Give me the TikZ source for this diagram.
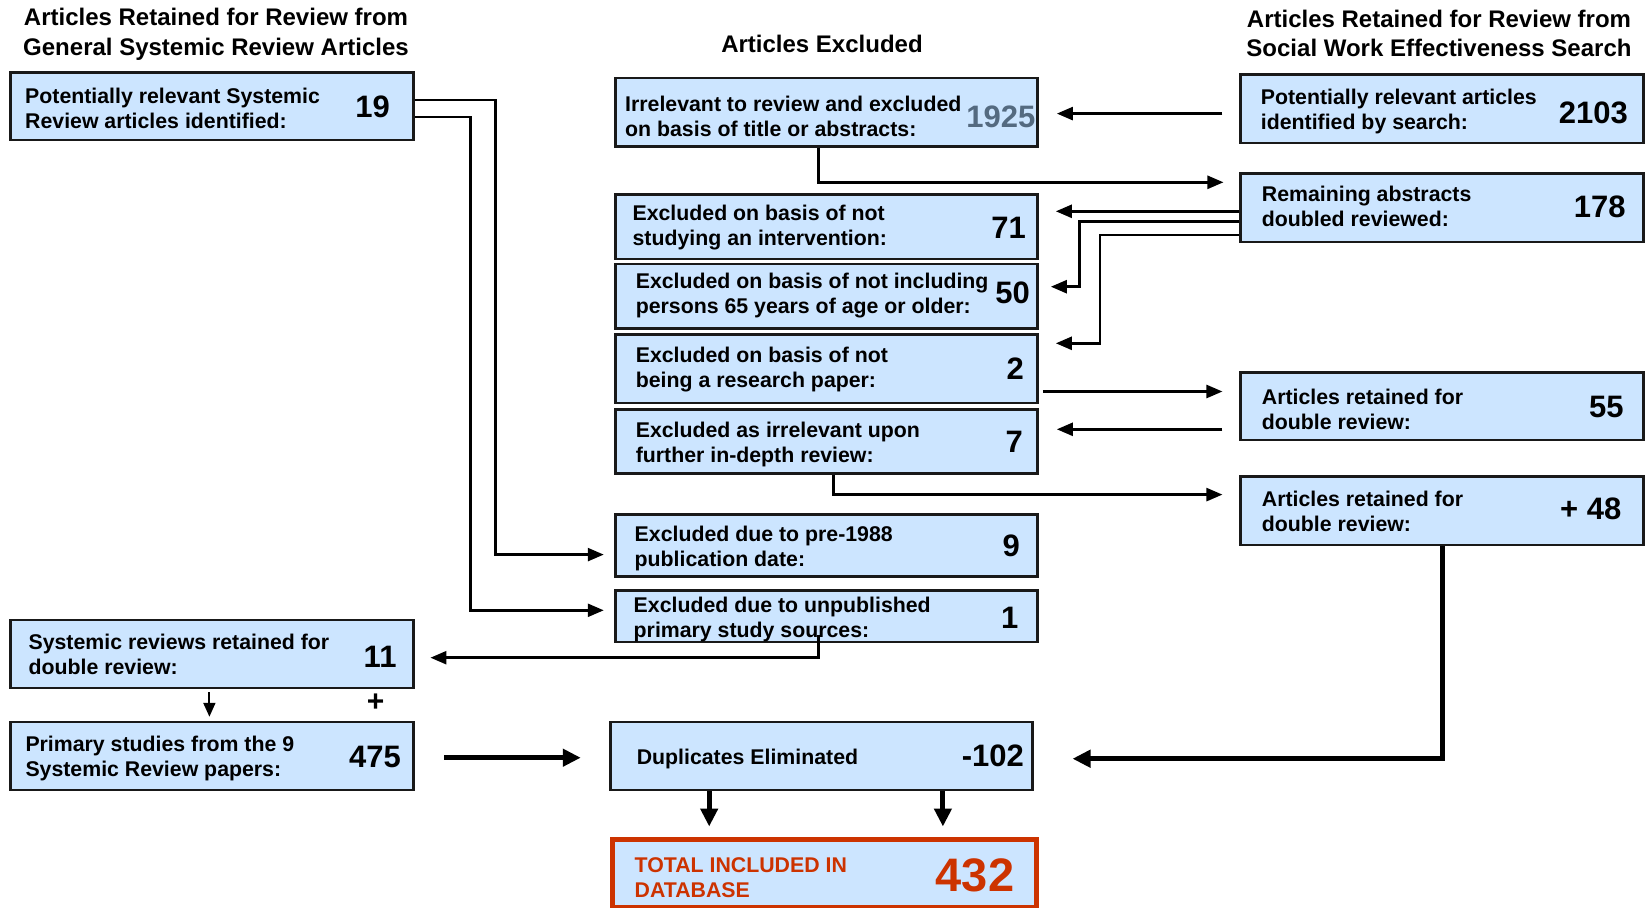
\documentclass[tikz,border=0pt]{standalone}
\usepackage{fontspec}
\setmainfont{Liberation Sans}
\usetikzlibrary{arrows.meta}
\definecolor{boxblue}{RGB}{204,229,255}
\definecolor{numgray}{RGB}{84,106,128}
\definecolor{redc}{RGB}{204,51,0}
\tikzset{
  box/.style={draw=black!90, line width=2.5pt, fill=boxblue, inner sep=0pt},
  lbl/.style={font=\fontsize{21.3}{25}\selectfont\bfseries, align=left, anchor=west, inner sep=0pt, yshift=-1.5pt},
  num/.style={font=\fontsize{31}{31}\selectfont\bfseries, anchor=east, inner sep=0pt, yshift=-1pt},
  hdr/.style={font=\fontsize{24}{29.5}\selectfont\bfseries, align=center, inner sep=0pt},
  conn/.style={line width=2.5pt, -{Triangle[length=16pt,width=13pt]}},
  thickconn/.style={line width=5pt, -{Triangle[length=18pt,width=17pt]}},
  smallconn/.style={line width=2pt, -{Triangle[length=14pt,width=12pt]}},
}
\begin{document}
\begin{tikzpicture}[x=1pt,y=-1pt]
\useasboundingbox (0,0) rectangle (1650,908);
% headers
\node[hdr] (hL) at (216,34.5) {Articles Retained for Review from\\General Systemic Review Articles};
\node[hdr] (hM) at (822,44) {Articles Excluded};
\node[hdr] (hR) at (1439,33.5) {Articles Retained for Review from\\Social Work Effectiveness Search};
% left column
\node[box, minimum width=403pt, minimum height=67.4pt] (A) at (212,106.3) {};
\node[lbl] (lA) at (25,107.3) {Potentially relevant Systemic\\Review articles identified:};
\node[num] (nA) at (390,106) {19};
\node[box, minimum width=403pt, minimum height=68pt] (L2) at (212,654) {};
\node[lbl] (lL2) at (28.4,652.4) {Systemic reviews retained for\\double review:};
\node[num] (nL2) at (396.7,655.6) {11};
\node[box, minimum width=403pt, minimum height=68pt] (L3) at (212,756) {};
\node[lbl] (lL3) at (25.3,756.5) {Primary studies from the 9\\Systemic Review papers:};
\node[num] (nL3) at (401,755.5) {475};
% middle column
\node[box, minimum width=422pt, minimum height=68.4pt] (M1) at (826.6,112.1) {};
\node[lbl] (lM1) at (625,114.5) {Irrelevant to review and excluded\\on basis of title or abstracts:};
\node[num, text=numgray] (nM1) at (1035.5,115.7) {1925};
\node[box, minimum width=422pt, minimum height=64.2pt] (M2) at (826.6,226.8) {};
\node[lbl] (lM2) at (632.4,226.2) {Excluded on basis of not\\studying an intervention:};
\node[num] (nM2) at (1026,227) {71};
\node[box, minimum width=422pt, minimum height=64.2pt] (M3) at (826.6,296.2) {};
\node[lbl] (lM3) at (635.6,294.5) {Excluded on basis of not including\\persons 65 years of age or older:};
\node[num] (nM3) at (1030,291.5) {50};
\node[box, minimum width=422pt, minimum height=68.4pt] (M4) at (826.6,368.8) {};
\node[lbl] (lM4) at (635.6,368.3) {Excluded on basis of not\\being a research paper:};
\node[num] (nM4) at (1024,368) {2};
\node[box, minimum width=422pt, minimum height=64.2pt] (M5) at (826.6,441.4) {};
\node[lbl] (lM5) at (635.6,443) {Excluded as irrelevant upon\\further in-depth review:};
\node[num] (nM5) at (1023,441) {7};
\node[box, minimum width=422pt, minimum height=62.1pt] (M6) at (826.6,545.65) {};
\node[lbl] (lM6) at (634.5,547.2) {Excluded due to pre-1988\\publication date:};
\node[num] (nM6) at (1020,545) {9};
\node[box, minimum width=422pt, minimum height=51.6pt] (M7) at (826.6,616.1) {};
\node[lbl] (lM7) at (633.5,617.6) {Excluded due to unpublished\\primary study sources:};
\node[num] (nM7) at (1018.6,616.7) {1};
\node[box, minimum width=422pt, minimum height=68pt] (M8) at (821.3,756) {};
\node[lbl] (lM8) at (636.6,757.7) {Duplicates Eliminated};
\node[num] (nM8) at (1024,754.5) {-102};
\node[box, draw=redc, line width=5pt, minimum width=424pt, minimum height=67.4pt] (M9) at (824.5,873.4) {};
\node[lbl, text=redc] (lM9) at (634.5,876) {TOTAL INCLUDED IN\\DATABASE};
\node[num, text=redc, font=\fontsize{47}{47}\selectfont\bfseries] (nM9) at (1014.4,874.5) {432};
% right column
\node[box, minimum width=403pt, minimum height=68.4pt] (R1) at (1442.2,108.9) {};
\node[lbl] (lR1) at (1260.7,110.4) {Potentially relevant articles\\identified by search:};
\node[num] (nR1) at (1628,111.5) {2103};
\node[box, minimum width=403pt, minimum height=68.4pt] (R2) at (1442.2,207.8) {};
\node[lbl] (lR2) at (1261.7,205.2) {Remaining abstracts\\doubled reviewed:};
\node[num] (nR2) at (1625.8,206) {178};
\node[box, minimum width=403pt, minimum height=67.4pt] (R3) at (1442.2,406.2) {};
\node[lbl] (lR3) at (1261.7,407.8) {Articles retained for\\double review:};
\node[num] (nR3) at (1623.7,406) {55};
\node[box, minimum width=403pt, minimum height=68.4pt] (R4) at (1442.2,510.9) {};
\node[lbl] (lR4) at (1261.7,509.8) {Articles retained for\\double review:};
\node[num] (nR4) at (1621.6,508) {+ 48};
% plus sign
\node[font=\fontsize{30}{30}\selectfont\bfseries, inner sep=0pt] (plus) at (375.7,703) {+};
% connectors
\draw[conn, shorten >=10.6pt] (A.east |- 0,100) -| (495.6,554.6) -- (M6.west |- 0,554.6);
\draw[conn, shorten >=10.6pt] (A.east |- 0,116.8) -| (470.4,610.3) -- (M7.west |- 0,610.3);
\draw[conn, shorten <=17pt, shorten >=18pt] (R1.west |- 0,113.6) -- (M1.east |- 0,113.6);
\draw[conn, shorten >=16pt] (M1.south -| 818.7,0) |- (R2.west |- 0,182.3);
\draw[conn, shorten >=17pt] (R2.west |- 0,211.3) -- (M2.east |- 0,211.3);
\draw[conn, shorten >=12pt] (R2.west |- 0,221.5) -| (1079.3,286.7) -- (M3.east |- 0,286.7);
\draw[conn, shorten >=17pt] (R2.west |- 0,235) -| (1100,343.3) -- (M4.east |- 0,343.3);
\draw[conn, shorten <=4pt, shorten >=17pt] (M4.east |- 0,391.5) -- (R3.west |- 0,391.5);
\draw[conn, shorten <=17pt, shorten >=18pt] (R3.west |- 0,429.3) -- (M5.east |- 0,429.3);
\draw[conn, shorten >=17pt] (M5.south -| 833.4,0) |- (R4.west |- 0,494.6);
\draw[thickconn, shorten >=39pt] (R4.south -| 1442.7,0) |- (M8.east |- 0,758.7);
\draw[conn, shorten >=15.7pt] ([yshift=8pt]M7.south -| 818.7,0) |- (L2.east |- 0,657.7);
\draw[smallconn, shorten <=3pt, shorten >=4pt] (L2.south -| 209.4,0) -- (L3.north -| 209.4,0);
\draw[thickconn, shorten <=29.4pt, shorten >=28.3pt] (L3.east |- 0,757.7) -- (M8.west |- 0,757.7);
\draw[thickconn, shorten >=10.7pt] (M8.south -| 709.2,0) -- (M9.north -| 709.2,0);
\draw[thickconn, shorten >=10.7pt] (M8.south -| 942.9,0) -- (M9.north -| 942.9,0);
\end{tikzpicture}
\end{document}
